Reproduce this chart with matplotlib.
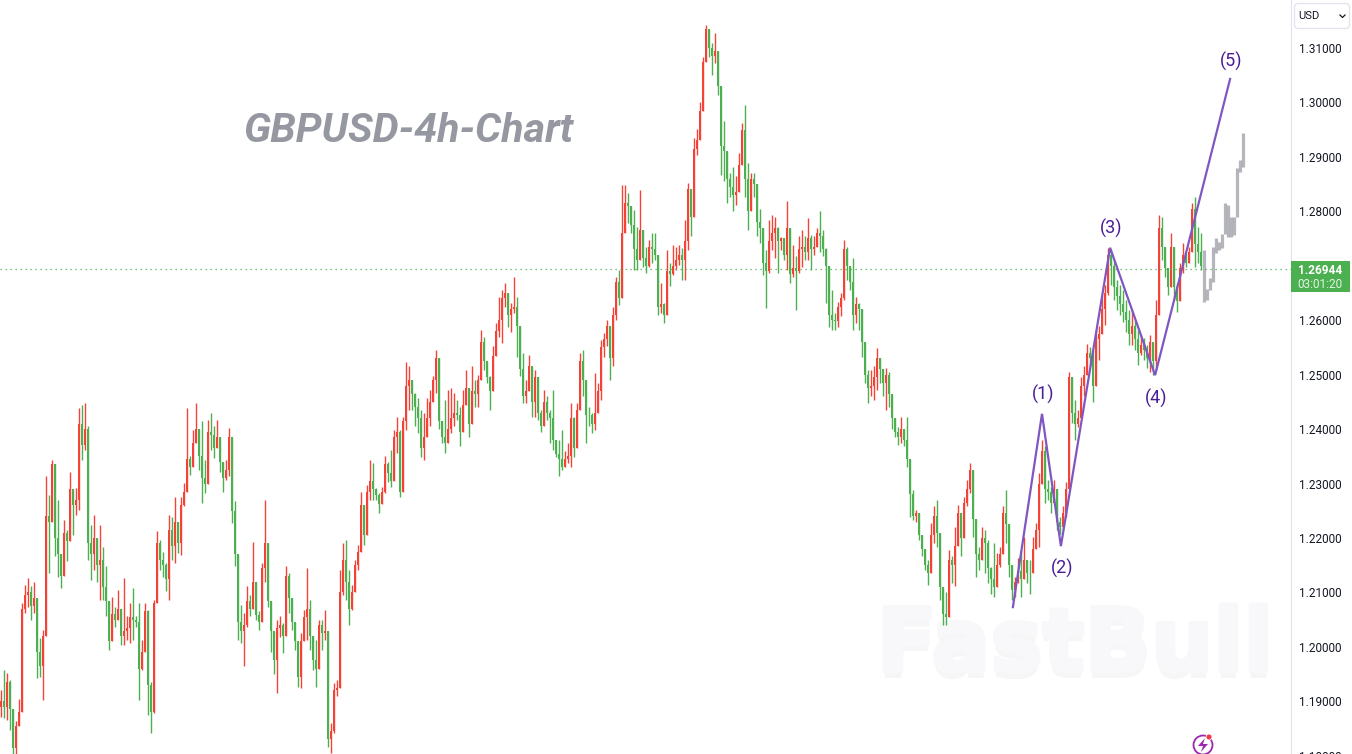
import numpy as np
import matplotlib
matplotlib.use('Agg')
import matplotlib.pyplot as plt
import matplotlib.patheffects as pe
from matplotlib.patches import Rectangle, FancyBboxPatch, Circle, Polygon

# prices, in pips above 1.0000 (one bar per 3 px)
highs = [
    1921,1958,1952,1939,1830,1863,1905,2080,2114,2126,2111,2120,2062,2016,2031,2313,2279,2343,2276,2270,
    2154,2233,2215,2322,2288,2291,2438,2444,2447,2405,2224,2242,2196,2224,2184,2148,2043,2092,2074,2105,
    2037,2126,2056,2080,2108,2056,2080,2013,2080,2068,1936,2086,2212,2196,2175,2154,2242,2239,2276,2212,
    2276,2301,2438,2350,2398,2447,2392,2414,2344,2417,2429,2405,2417,2365,2331,2344,2402,2331,2267,2102,
    2077,2062,2111,2096,2193,2065,2065,2154,2270,2102,2074,2025,2050,2056,2043,2148,2135,2074,2043,1967,
    2025,2068,2145,2086,2013,2013,2050,2050,2068,1988,1860,1933,1939,2141,
    2190,2196,2141,2114,2160,2187,2285,2250,2297,2343,2337,2291,2282,2294,2350,2340,2362,2398,2423,2398,
    2423,2524,2515,2484,2466,2457,2435,2429,2457,2472,2497,2545,2527,2405,2454,2472,2475,2466,2454,2441,
    2472,2509,2429,2515,2490,2500,2582,2570,2515,2497,2552,2594,2643,2655,2668,2643,2631,2680,2643,2540,
    2540,2490,2536,2509,2509,2490,2435,2472,2460,2435,2472,2374,2380,2398,2359,2374,2448,2423,2448,2539,
    2545,2441,2441,2429,2503,2484,2564,2576,2601,2558,2625,2680,2692,2848,2848,2833,2809,2803,2772,2839,
    2750,2735,2747,2760,2760,2717,2668,2631,2729,2705,2738,2735,2738,
    2732,2784,2851,2827,2934,2952,3001,3084,3142,3130,3109,3127,3050,2956,2965,2907,2870,2882,2864,2907,
    2962,2995,2888,2870,2870,2839,2805,2741,2729,2784,2793,2790,2772,2753,2741,2818,2723,2738,2717,2754,
    2766,2754,2787,2757,2754,2769,2800,2766,2732,2662,2656,2613,2634,2649,2747,2735,2692,2714,2643,2631,
    2600,2520,2509,2509,2515,2548,2530,2502,2512,2505,2444,2407,2404,2423,2392,2423,2310,2288,2251,2221,
    2196,2166,2160,2227,2258,2270,2153,2092,2101,2178,2166,2221,2261,2221,2276,2307,2337,2270,2227,2184,
    2221,2215,2196,2147,2190,2172,2184,2258,2288,2172,2135,2129,2163,2178,2202,2160,2160,2202,2227,2319,
    2380,2368,2307,2294,2307,2251,2239,2258,2303,2505,2496,2453,2435,2496,2515,2557,2551,2545,2582,2590,
    2646,2665,2733,2729,2711,2674,2665,2655,2637,2619,2619,2600,2582,2573,2567,2554,2573,2554,2637,2793,
    2790,2710,2679,2760,2729,2668,2705,2742,2723,2734,2815,2826,2771,2760,
]
lows = [
    1872,1869,1866,1847,1804,1804,1860,1915,2062,2074,2050,2062,1942,1945,1903,2071,2135,2258,2166,2129,
    2108,2160,2157,2203,2206,2242,2251,2343,2362,2160,2123,2141,2120,2086,2086,2056,1994,2031,2037,2050,
    2004,2004,2013,2007,2013,2037,1903,1958,2013,1875,1841,1878,2111,2141,2129,2102,2086,2160,2154,2172,
    2169,2258,2319,2316,2337,2374,2325,2264,2282,2313,2362,2346,2371,2322,2285,2307,2313,2227,2148,2013,
    2007,1964,2037,2056,2074,2050,2031,2117,2120,2074,1991,1951,1915,2019,1988,2062,2062,2031,1994,1927,
    1924,2013,2013,1994,1958,1927,2013,1994,2013,1817,1805,1841,1909,2007,
    2095,2086,2040,2068,2105,2141,2178,2187,2225,2270,2270,2270,2246,2270,2282,2303,2294,2319,2356,2276,
    2307,2398,2435,2435,2405,2392,2349,2343,2392,2405,2472,2466,2401,2374,2356,2374,2392,2405,2417,2368,
    2429,2460,2386,2454,2441,2441,2490,2509,2484,2435,2497,2552,2570,2558,2625,2588,2579,2613,2533,2497,
    2448,2448,2478,2423,2423,2417,2395,2417,2417,2374,2362,2349,2313,2325,2337,2337,2331,2349,2368,2441,
    2460,2374,2405,2392,2398,2429,2454,2533,2552,2490,2515,2600,2628,2643,2784,2778,2760,2692,2692,2741,
    2698,2686,2698,2705,2711,2610,2613,2594,2613,2662,2683,2692,2702,
    2674,2674,2729,2754,2851,2903,2931,2986,3084,3084,3050,3072,3014,2867,2855,2815,2827,2800,2812,2870,
    2907,2827,2766,2833,2827,2754,2741,2683,2622,2686,2729,2714,2686,2729,2711,2692,2668,2680,2619,2686,
    2698,2711,2711,2692,2720,2735,2726,2717,2631,2588,2582,2582,2588,2607,2637,2674,2655,2582,2594,2582,
    2533,2484,2447,2460,2453,2472,2484,2460,2435,2441,2401,2386,2371,2374,2368,2331,2239,2233,2230,2196,
    2166,2141,2114,2153,2190,2184,2086,2040,2040,2117,2117,2111,2196,2166,2215,2258,2282,2202,2129,2141,
    2178,2135,2117,2098,2092,2111,2147,2196,2190,2129,2086,2092,2117,2092,2141,2117,2098,2160,2184,2184,
    2307,2264,2270,2245,2270,2215,2208,2215,2239,2313,2411,2380,2404,2423,2460,2502,2515,2450,2521,2527,
    2582,2591,2646,2665,2637,2619,2610,2597,2578,2554,2554,2545,2518,2536,2527,2512,2505,2499,2509,2710,
    2710,2679,2646,2692,2637,2615,2668,2687,2698,2705,2760,2698,2705,2692,
]
closes = [
    1900,1890,1935,1885,1815,1855,1880,2070,2095,2100,2075,2090,1990,1965,2020,2240,2230,2335,2200,2170,
    2130,2210,2195,2290,2260,2270,2410,2370,2400,2190,2170,2200,2150,2160,2110,2085,2010,2060,2050,2070,
    2020,2030,2035,2055,2050,2045,1960,1990,2065,1930,1880,2080,2190,2160,2150,2125,2215,2185,2230,2190,
    2260,2285,2345,2330,2375,2400,2350,2310,2300,2395,2390,2365,2385,2340,2310,2325,2385,2250,2170,2045,
    2030,2040,2085,2070,2120,2058,2045,2145,2190,2085,2030,1975,2035,2040,2020,2130,2090,2045,2010,1945,
    2010,2055,2070,2020,1975,1960,2040,2025,2030,1830,1845,1920,1925,2100,
    2160,2120,2070,2100,2150,2175,2260,2205,2285,2305,2290,2278,2262,2285,2335,2320,2305,2385,2395,2285,
    2415,2480,2490,2465,2440,2420,2365,2385,2420,2450,2490,2530,2415,2385,2375,2400,2420,2430,2425,2395,
    2445,2475,2410,2470,2465,2490,2560,2525,2495,2470,2535,2580,2600,2640,2650,2610,2620,2625,2590,2510,
    2460,2470,2515,2450,2495,2430,2405,2450,2430,2420,2380,2355,2345,2330,2345,2350,2420,2365,2435,2525,
    2490,2425,2425,2410,2430,2470,2550,2565,2590,2530,2610,2670,2640,2760,2815,2810,2775,2730,2710,2765,
    2715,2700,2735,2730,2720,2625,2630,2610,2690,2685,2700,2710,2720,
    2710,2745,2840,2790,2915,2930,2985,3075,3135,3100,3085,3095,3030,2920,2910,2860,2845,2830,2835,2885,
    2950,2860,2800,2860,2850,2780,2770,2705,2690,2745,2760,2770,2745,2750,2720,2770,2685,2695,2690,2730,
    2735,2725,2750,2730,2735,2760,2755,2730,2700,2610,2600,2598,2625,2640,2730,2700,2670,2610,2630,2620,
    2560,2500,2475,2480,2495,2530,2510,2485,2500,2465,2420,2395,2385,2400,2380,2345,2280,2240,2245,2205,
    2180,2150,2135,2205,2240,2210,2110,2060,2055,2160,2150,2185,2245,2200,2265,2290,2325,2235,2170,2160,
    2200,2190,2145,2125,2110,2150,2170,2245,2225,2150,2105,2120,2140,2125,2160,2135,2135,2180,2215,2300,
    2360,2290,2285,2265,2290,2230,2220,2245,2290,2495,2430,2410,2420,2480,2500,2540,2530,2480,2565,2575,
    2620,2650,2720,2700,2660,2645,2630,2615,2600,2575,2590,2565,2540,2555,2545,2530,2560,2525,2610,2770,
    2735,2695,2660,2735,2660,2635,2695,2720,2705,2725,2805,2740,2725,2700,
]

# grey projected bars after the last real one
proj_high = [2729,2658,2677,2735,2750,2744,2759,2815,2811,2790,2790,2879,2894,2943]
proj_low = [2634,2637,2655,2671,2723,2729,2732,2759,2753,2753,2756,2790,2873,2882]

# elliott wave drawing: bar number and price
wave_bar = [337.3, 347, 353.3, 369.7, 384.7, 409.7]
wave_price = [1.2073, 1.2428, 1.2185, 1.2733, 1.2499, 1.3043]
wave_text = ['(1)', '(2)', '(3)', '(4)', '(5)']
wave_offset_px = [-19, 22, -19, 23, -18]

y_ticks = [1.18, 1.19, 1.20, 1.21, 1.22, 1.23, 1.24, 1.25, 1.26, 1.28, 1.29, 1.30, 1.31]
last_price = 1.26944
countdown = '03:01:20'

RED = '#f44336'
GREEN = '#4caf50'
PURPLE = '#7e57c2'
W, H = 1352, 754

plt.rcParams['font.family'] = ['Roboto', 'DejaVu Sans']

fig = plt.figure(figsize=(W / 100, H / 100), dpi=100, facecolor='white')
# pixel y=0 is 1.3188 and 54.45 px make one cent, axes run a little past the bottom
ax = fig.add_axes([0, -6 / H, 1291 / W, (H + 6) / H])
ax.patch.set_alpha(0)
ax.set_xlim(-1 / 3, 430)
ax.set_ylim(1.3188 - 760 / 5445, 1.3188)

high = 1 + np.array(highs) / 1e4
low = 1 + np.array(lows) / 1e4
close = 1 + np.array(closes) / 1e4
opn = np.r_[close[0] - 0.0010, close[:-1]]
bars = np.arange(len(close))
colors = [RED if c > o else GREEN for o, c in zip(opn, close)]

ax.vlines(bars, np.minimum(low, np.minimum(opn, close)), np.maximum(high, np.maximum(opn, close)),
          colors=colors, lw=1.0, zorder=2)
ax.bar(bars, np.abs(close - opn), bottom=np.minimum(opn, close), width=0.85, color=colors,
       linewidth=0, zorder=2)

# projection
pbars = len(close) + np.arange(len(proj_high))
ax.vlines(pbars, 1 + np.array(proj_low) / 1e4, 1 + np.array(proj_high) / 1e4,
          colors='#787b86', lw=2.3, alpha=0.55, zorder=3)

ax.axhline(last_price, color=GREEN, lw=0.9, ls=(0, (1, 3)), zorder=2.5)

ax.plot(wave_bar, wave_price, color=PURPLE, lw=1.6, zorder=4, solid_joinstyle='miter')
for b, p, t, off in zip(wave_bar[1:], wave_price[1:], wave_text, wave_offset_px):
    ax.annotate(t, (b, p), xytext=(1, -off * 0.72), textcoords='offset points', ha='center', va='center',
                color='#4a1d96', fontsize=13, zorder=5)

for s in ['top', 'bottom', 'left']:
    ax.spines[s].set_visible(False)
ax.spines['right'].set_color('#e0e3eb')
ax.set_xticks([])
ax.yaxis.tick_right()
ax.set_yticks(y_ticks)
ax.set_yticklabels(['%.5f' % v for v in y_ticks], fontsize=8.5, color='#131722')
ax.tick_params(axis='y', length=0, pad=5.5)

# watermark sits under the candles
fig.text(1075 / W, 1 - 647 / H, 'FastBull', ha='center', va='center', fontsize=63, fontweight='bold',
         family='DejaVu Sans', color='#f8f8fa', zorder=-1,
         path_effects=[pe.withSimplePatchShadow(offset=(0, -5), shadow_rgbFace='#f0f0f2', alpha=0.6),
                       pe.withStroke(linewidth=3, foreground='#f8f8fa')])

# decorations in pixel coordinates
ov = fig.add_axes([0, 0, 1, 1])
ov.set_xlim(0, W)
ov.set_ylim(H, 0)
ov.axis('off')

ov.text(408.5, 131, 'GBPUSD-4h-Chart', ha='center', va='center', fontsize=29.7, fontweight='bold',
        fontstyle='italic', color='#9598a1')

ov.add_patch(Rectangle((1291, 261), 59, 31, color=GREEN, lw=0))
ov.text(1320, 270, '%.5f' % last_price, ha='center', va='center', fontsize=8.5, fontweight='bold', color='white')
ov.text(1320, 284, countdown, ha='center', va='center', fontsize=8.5, color='#e3f3e4')

ov.add_patch(FancyBboxPatch((1296, 5), 52, 22, boxstyle='round,pad=1.5,rounding_size=4',
                            fc='white', ec='#e0e3eb', lw=0.9))
ov.text(1298.5, 16, 'USD', ha='left', va='center', fontsize=8, color='#131722')
ov.plot([1340, 1342.5, 1345], [15, 17.5, 15], color='#131722', lw=0.9)

ov.add_patch(Circle((1203, 745), 9.5, fc='none', ec='#9c27b0', lw=1.3))
ov.add_patch(Polygon([(1205, 738), (1198, 746), (1203, 746), (1201, 752), (1208, 744), (1203, 744)],
                     closed=True, fc='#9c27b0', ec='none'))
ov.add_patch(Circle((1209, 737), 3, fc='#f23645', ec='white', lw=0.6))

fig.savefig('out.png', dpi=100)
